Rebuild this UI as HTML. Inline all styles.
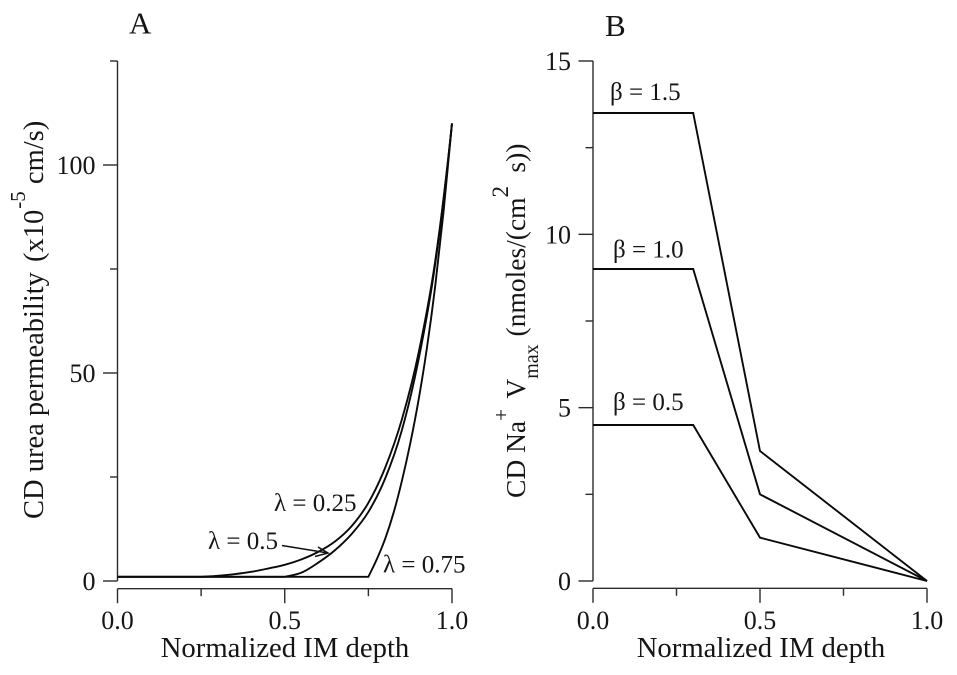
<!DOCTYPE html>
<html lang="en">
<head>
<meta charset="utf-8">
<title>CD urea permeability and Na+ Vmax</title>
<style>
html,body{margin:0;padding:0;background:#fff;}
svg{display:block;font-family:"Liberation Serif",serif;fill:#151515;}
text{stroke:none;}
</style>
</head>
<body>
<svg id="figure" xmlns="http://www.w3.org/2000/svg" width="957" height="675" viewBox="0 0 957 675">
  <text x="129" y="33.5" font-size="31">A</text>
  <text x="605" y="36" font-size="31">B</text>

  <text transform="translate(43,519) rotate(-90)" font-size="28.5">CD urea permeability<tspan dx="3"> (x10</tspan><tspan font-size="21" dy="-18" dx="1">-5</tspan><tspan dy="18"> cm/s)</tspan></text>
  <text transform="translate(525,498) rotate(-90)" font-size="27.5">CD Na<tspan font-size="21" dy="-17">+</tspan><tspan dy="17" dx="4"> V</tspan><tspan font-size="20" dy="13">max</tspan><tspan dy="-13" dx="1"> (nmoles/(cm</tspan><tspan font-size="23" dy="-17">2</tspan><tspan dy="17" dx="6.5"> s))</tspan></text>

  <text x="285" y="657" font-size="28.7" text-anchor="middle">Normalized IM depth</text>
  <text x="761" y="657" font-size="28.7" text-anchor="middle">Normalized IM depth</text>

  <g id="panel-a"></g>
  <g id="panel-b"></g>

  <text x="274" y="511" font-size="25">λ = 0.25</text>
  <text x="208" y="549" font-size="25">λ = 0.5</text>
  <text x="383" y="572.5" font-size="25">λ = 0.75</text>
  <path d="M282 545.5L328 553M315 556.5L328 553L318 547" fill="none" stroke="#111" stroke-width="1.5"/>

  <text x="610" y="100" font-size="25">β = 1.5</text>
  <text x="613" y="257.5" font-size="25">β = 1.0</text>
  <text x="613" y="410" font-size="25">β = 0.5</text>
</svg>

<script>
// Panel A data
const depthA25 = [0, 0.25, 0.3, 0.35, 0.4, 0.45, 0.5, 0.55, 0.6, 0.65, 0.7, 0.75, 0.8, 0.85, 0.9, 0.95, 1];
const permA25 = [1, 1, 1.25, 1.65, 2.2, 3, 3.9, 5.2, 7, 9.5, 13.2, 18.8, 27.2, 38.8, 54.8, 77, 110];
const depthA50 = [0, 0.5, 0.55, 0.6, 0.65, 0.7, 0.75, 0.8, 0.85, 0.9, 0.95, 1];
const permA50 = [1, 1, 2, 4.4, 7.4, 11.3, 16.6, 24.6, 36.2, 53.2, 76.3, 110];
const depthA75 = [0, 0.75, 0.775, 0.8, 0.825, 0.85, 0.875, 0.9, 0.925, 0.95, 0.975, 1];
const permA75 = [1, 1, 5.2, 10.1, 16.3, 24, 33, 43.5, 56, 71, 89, 110];
const yMajorA = [0, 50, 100];
const yMinorA = [25, 75, 125];
const yLabelsA = ["0", "50", "100"];

// Panel B data
const depthB = [0, 0.3, 0.5, 1];
const vmaxB15 = [13.5, 13.5, 3.75, 0];
const vmaxB10 = [9, 9, 2.5, 0];
const vmaxB05 = [4.5, 4.5, 1.25, 0];
const yMajorB = [0, 5, 10, 15];
const yMinorB = [2.5, 7.5, 12.5];
const yLabelsB = ["0", "5", "10", "15"];

// Shared x axis
const xMajor = [0, 0.5, 1];
const xMinor = [0.25, 0.75];
const xLabels = ["0.0", "0.5", "1.0"];

const NS = "http://www.w3.org/2000/svg";
function xAxisFn(left, right) { return v => left + v * (right - left); }
function yAxisFn(zero, top, max) { return v => zero - v * (zero - top) / max; }

function addLine(parent, x1, y1, x2, y2, name) {
  const el = document.createElementNS(NS, "line");
  el.setAttribute("x1", x1);
  el.setAttribute("y1", y1);
  el.setAttribute("x2", x2);
  el.setAttribute("y2", y2);
  el.setAttribute("stroke", "#2b2b2b");
  el.setAttribute("stroke-width", "1.4");
  
  
  parent.appendChild(el);
}
function addText(parent, x, y, str, anchor, name) {
  const el = document.createElementNS(NS, "text");
  el.setAttribute("x", x);
  el.setAttribute("y", y);
  el.setAttribute("font-size", "26");
  el.setAttribute("text-anchor", anchor);
  el.textContent = str;
  
  
  parent.appendChild(el);
}
// Smooth cubic path through data points; flat-to-rising joins stay sharp
function curvePath(xs, ys, X, Y) {
  const n = xs.length, px = xs.map(X), py = ys.map(Y), sec = [], m = [];
  for (let i = 0; i < n - 1; i++) sec.push((py[i + 1] - py[i]) / (px[i + 1] - px[i]));
  for (let i = 0; i < n; i++) {
    if (i === 0) m.push(sec[0]);
    else if (i === n - 1) m.push(sec[n - 2] + (sec[n - 2] - sec[n - 3]) / 2);
    else if (sec[i - 1] === 0) m.push(0);
    else m.push((sec[i - 1] + sec[i]) / 2);
  }
  let d = "M" + px[0].toFixed(2) + " " + py[0].toFixed(2);
  for (let i = 0; i < n - 1; i++) {
    const h = (px[i + 1] - px[i]) / 3;
    const m0 = (i > 0 && sec[i - 1] === 0) ? sec[i] : m[i];
    d += "C" + (px[i] + h).toFixed(2) + " " + (py[i] + m0 * h).toFixed(2) + " " +
         (px[i + 1] - h).toFixed(2) + " " + (py[i + 1] - m[i + 1] * h).toFixed(2) + " " +
         px[i + 1].toFixed(2) + " " + py[i + 1].toFixed(2);
  }
  return d;
}
function linePath(xs, ys, X, Y) {
  return xs.map((v, i) => (i ? "L" : "M") + X(v).toFixed(2) + " " + Y(ys[i]).toFixed(2)).join("");
}
function addSeries(parent, d, name) {
  const el = document.createElementNS(NS, "path");
  el.setAttribute("d", d);
  el.setAttribute("fill", "none");
  el.setAttribute("stroke", "#0a0a0a");
  el.setAttribute("stroke-width", "1.9");
  el.setAttribute("stroke-linejoin", "miter");
  
  
  parent.appendChild(el);
}
function drawAxes(g, X, Y, yTop, yMajor, yMinor, yLabels, xAxisY, prefix) {
  const ax = X(0);
  addLine(g, ax, Y(0), ax, Y(yTop), prefix + "-y-axis");
  yMajor.forEach((v, i) => {
    addLine(g, ax - 14.5, Y(v), ax, Y(v), prefix + "-y-major-tick");
    addText(g, ax - 22, Y(v) + 9, yLabels[i], "end", prefix + "-y-tick-label");
  });
  yMinor.forEach(v => addLine(g, ax - 7.5, Y(v), ax, Y(v), prefix + "-y-minor-tick"));
  addLine(g, X(0), xAxisY, X(1), xAxisY, prefix + "-x-axis");
  xMajor.forEach((v, i) => {
    addLine(g, X(v), xAxisY, X(v), xAxisY + 14.5, prefix + "-x-major-tick");
    addText(g, X(v), 629, xLabels[i], "middle", prefix + "-x-tick-label");
  });
  xMinor.forEach(v => addLine(g, X(v), xAxisY, X(v), xAxisY + 7.5, prefix + "-x-minor-tick"));
}

const gA = document.getElementById("panel-a");
const xA = xAxisFn(117.5, 452);
const yA = yAxisFn(581, 61, 125);
drawAxes(gA, xA, yA, 125, yMajorA, yMinorA, yLabelsA, 588.7, "panel-a");
addSeries(gA, curvePath(depthA25, permA25, xA, yA), "curve-lambda-0-25");
addSeries(gA, curvePath(depthA50, permA50, xA, yA), "curve-lambda-0-5");
addSeries(gA, curvePath(depthA75, permA75, xA, yA), "curve-lambda-0-75");

const gB = document.getElementById("panel-b");
const xB = xAxisFn(593, 927);
const yB = yAxisFn(581, 61, 15);
drawAxes(gB, xB, yB, 15, yMajorB, yMinorB, yLabelsB, 588.3, "panel-b");
addSeries(gB, linePath(depthB, vmaxB15, xB, yB), "line-beta-1-5");
addSeries(gB, linePath(depthB, vmaxB10, xB, yB), "line-beta-1-0");
addSeries(gB, linePath(depthB, vmaxB05, xB, yB), "line-beta-0-5");
</script>
</body>
</html>
